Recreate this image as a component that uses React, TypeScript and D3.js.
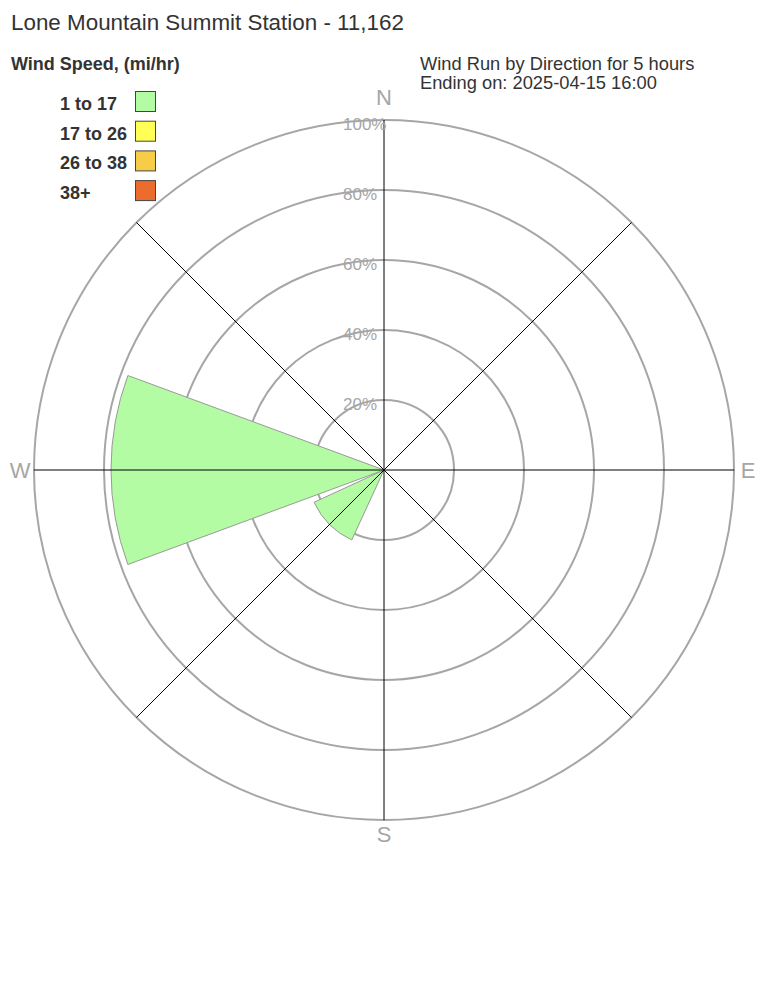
import { useEffect, useRef } from "react";
import * as d3 from "d3";

// 풍향 / 풍속 구간
const directions = ["N", "NE", "E", "SE", "S", "SW", "W", "NW"];
const speedBins = ["1 to 17", "17 to 26", "26 to 38", "38+"];
const binColors = ["#b3fca3", "#ffff55", "#f7cd48", "#ec6c2e"];

// 방향별 비율(%) - 풍속 구간별
const bin1to17 = [0, 0, 0, 0, 0, 22, 78, 0];
const bin17to26 = [0, 0, 0, 0, 0, 0, 0, 0];
const bin26to38 = [0, 0, 0, 0, 0, 0, 0, 0];
const bin38plus = [0, 0, 0, 0, 0, 0, 0, 0];

const ringTicks = [20, 40, 60, 80, 100];
const compassLabels = ["N", "E", "S", "W"];
const compassAngles = [0, 90, 180, 270];

const W = 768;
const H = 1008;

const App = () => {
  const svgRef = useRef<SVGSVGElement | null>(null);

  useEffect(() => {
    if (!svgRef.current) return;
    const svg = d3.select(svgRef.current);
    svg.selectAll("*").remove();

    const cx = 384;
    const cy = 470;
    const r = d3.scaleLinear().domain([0, 100]).range([0, 350]);
    const font = "'Liberation Sans', Arial, sans-serif";

    // 제목
    svg
      .append("text")
      .attr("x", 11)
      .attr("y", 30)
      .attr("font-family", font)
      .attr("font-size", 22.4)
      .attr("fill", "#333")
      .text("Lone Mountain Summit Station - 11,162");

    svg
      .append("text")
      .attr("x", 11)
      .attr("y", 70)
      .attr("font-family", font)
      .attr("font-size", 18)
      .attr("font-weight", "bold")
      .attr("fill", "#333")
      .text("Wind Speed, (mi/hr)");

    const sub = svg
      .append("text")
      .attr("font-family", font)
      .attr("font-size", 18.3)
      .attr("fill", "#333");
    sub.append("tspan").attr("x", 420).attr("y", 70).text("Wind Run by Direction for 5 hours");
    sub.append("tspan").attr("x", 420).attr("y", 89).text("Ending on: 2025-04-15 16:00");

    // 범례
    const legend = svg.append("g");
    speedBins.forEach((label, i) => {
      const y = 91 + i * 29.7;
      legend
        .append("text")
        .attr("x", 60)
        .attr("y", y + 19)
        .attr("font-family", font)
        .attr("font-size", 18)
        .attr("font-weight", "bold")
        .attr("fill", "#333")
        .text(label);
      legend
        .append("rect")
        .attr("x", 135.5)
        .attr("y", y + 0.5)
        .attr("width", 20)
        .attr("height", 20)
        .attr("fill", binColors[i])
        .attr("stroke", "#444")
        .attr("stroke-width", 1);
    });

    const g = svg.append("g").attr("transform", `translate(${cx}, ${cy})`);

    // 링
    g.selectAll("circle.ring")
      .data(ringTicks)
      .enter()
      .append("circle")
      .attr("class", "ring")
      .attr("r", (d) => r(d))
      .attr("fill", "none")
      .attr("stroke", "#a6a6a6")
      .attr("stroke-width", 2);

    // 스택 데이터
    const rows = directions.map((dir, i) => ({
      dir,
      i,
      b0: bin1to17[i],
      b1: bin17to26[i],
      b2: bin26to38[i],
      b3: bin38plus[i],
    }));
    const stack = d3.stack<any>().keys(["b0", "b1", "b2", "b3"]);
    const series = stack(rows);

    const step = (2 * Math.PI) / directions.length;
    const half = (step * 0.9) / 2;
    const arc = d3
      .arc<any>()
      .innerRadius((d) => r(d[0]))
      .outerRadius((d) => r(d[1]))
      .startAngle((d) => d.data.i * step - half)
      .endAngle((d) => d.data.i * step + half);

    series.forEach((s, k) => {
      g.append("g")
        .selectAll("path")
        .data(s.filter((d) => d[1] - d[0] > 0))
        .enter()
        .append("path")
        .attr("d", arc)
        .attr("fill", binColors[k])
        .attr("stroke", "#999")
        .attr("stroke-width", 1);
    });

    // 축
    const R = r(100);
    d3.range(directions.length / 2).forEach((i) => {
      const a = i * step;
      const dx = Math.sin(a) * R;
      const dy = -Math.cos(a) * R;
      g.append("line")
        .attr("x1", -dx)
        .attr("y1", -dy)
        .attr("x2", dx)
        .attr("y2", dy)
        .attr("stroke", "#000")
        .attr("stroke-width", 1);
    });

    // 링 라벨
    g.selectAll("text.tick")
      .data(ringTicks)
      .enter()
      .append("text")
      .attr("class", "tick")
      .attr("x", -41)
      .attr("y", (d) => -r(d) + 10)
      .attr("font-family", font)
      .attr("font-size", 17)
      .attr("fill", "#a6a6a6")
      .text((d) => `${d}%`);

    // 방위 라벨
    const labelR = r(104);
    compassLabels.forEach((lab, i) => {
      const a = (compassAngles[i] * Math.PI) / 180;
      g.append("text")
        .attr("x", Math.sin(a) * labelR)
        .attr("y", -Math.cos(a) * labelR + (lab === "N" ? -9 : 0))
        .attr("text-anchor", "middle")
        .attr("dominant-baseline", "central")
        .attr("font-family", font)
        .attr("font-size", 22)
        .attr("fill", "#a6a6a6")
        .text(lab);
    });
  }, []);

  return (
    <svg
      ref={svgRef}
      width={W}
      height={H}
      style={{ position: "absolute", left: 0, top: 0, background: "#fff" }}
    ></svg>
  );
};

export default App;
